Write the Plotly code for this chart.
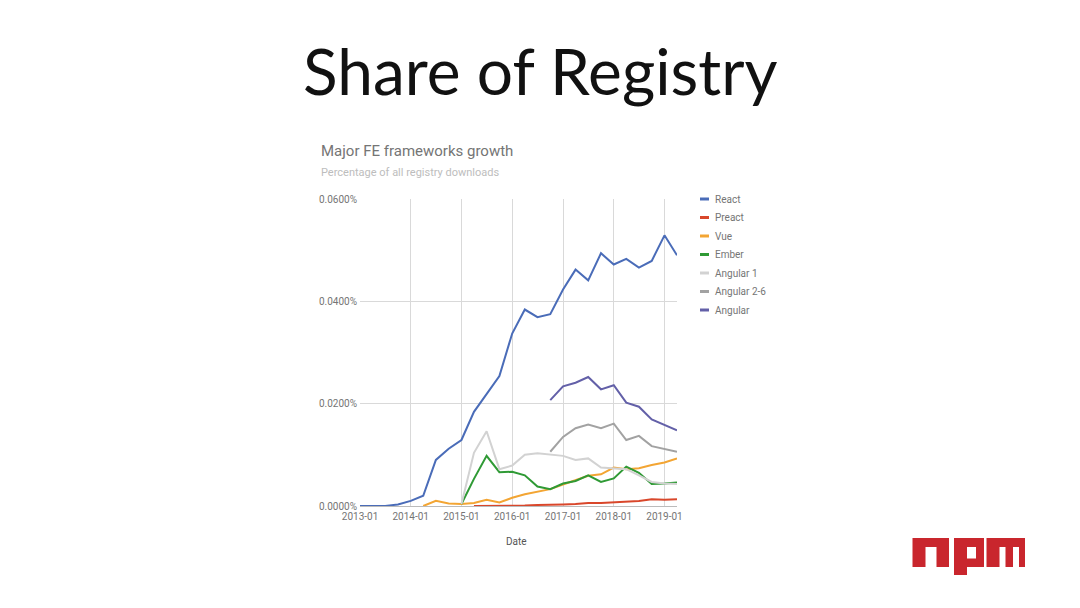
import plotly.graph_objects as go
import pandas as pd

W, H = 1080, 608
OFF = 8  # page body margin seen in the screenshot

# ---- data (percentage of all registry downloads), quarterly from 2013-01 ----
dates = pd.date_range(start="2013-01-01", periods=26, freq="QS")

react = [0, 0, 0, 0.0003, 0.0010, 0.0020, 0.0090, 0.0112, 0.0129, 0.0184, 0.0220, 0.0254,
         0.0337, 0.0384, 0.0369, 0.0375, 0.0423, 0.0462, 0.0441, 0.0494, 0.0472, 0.0483,
         0.0466, 0.0479, 0.0529, 0.0490]
preact = [None] * 9 + [0.0000, 0.0000, 0.0000, 0.0001, 0.0001, 0.0002, 0.0002, 0.0003,
                       0.0004, 0.0006, 0.0006, 0.0007, 0.0009, 0.0010, 0.0013, 0.0012, 0.0013]
vue = [None] * 5 + [0.0000, 0.0010, 0.0005, 0.0004, 0.0006, 0.0012, 0.0007, 0.0016, 0.0023,
                    0.0028, 0.0033, 0.0042, 0.0051, 0.0059, 0.0062, 0.0075, 0.0072, 0.0074,
                    0.0080, 0.0085, 0.0093]
ember = [None] * 8 + [0.0004, 0.0053, 0.0098, 0.0066, 0.0067, 0.0060, 0.0038, 0.0033, 0.0044,
                      0.0049, 0.0060, 0.0047, 0.0054, 0.0077, 0.0065, 0.0043, 0.0044, 0.0046]
angular1 = [None] * 8 + [0.0004, 0.0104, 0.0146, 0.0072, 0.0079, 0.0100, 0.0103, 0.0100,
                         0.0098, 0.0090, 0.0093, 0.0075, 0.0074, 0.0072, 0.0060, 0.0047,
                         0.0044, 0.0043]
angular26 = [None] * 15 + [0.0106, 0.0135, 0.0152, 0.0159, 0.0152, 0.0161, 0.0129, 0.0137,
                           0.0117, 0.0111, 0.0106]
angular = [None] * 15 + [0.0207, 0.0234, 0.0241, 0.0252, 0.0228, 0.0236, 0.0202, 0.0194,
                         0.0169, 0.0159, 0.0148]

names = ["React", "Preact", "Vue", "Ember", "Angular 1", "Angular 2-6", "Angular"]
series = [react, preact, vue, ember, angular1, angular26, angular]
colors = ["#4a6cb8", "#d9472b", "#f3a533", "#2f9a35", "#d2d2d2", "#a2a2a2", "#6360a8"]

y_ticks = [0, 0.02, 0.04, 0.06]
y_labels = ["0.0000%", "0.0200%", "0.0400%", "0.0600%"]
x_range = ["2013-01-01", "2019-04-01"]

# ---- layout helpers (screen pixel -> paper) ----
def px(x):
    return (x - OFF) / W

def py(y):
    return 1 - (y - OFF) / H

fig = go.Figure()
for name, vals, col in zip(names, series, colors):
    fig.add_trace(go.Scatter(x=dates, y=vals, name=name, mode="lines",
                             line=dict(color=col, width=2), connectgaps=False,
                             showlegend=False))

annotations = [
    dict(text="Share of Registry", x=px(540), y=py(70), xref="paper", yref="paper",
         showarrow=False, xanchor="center", yanchor="middle",
         font=dict(family="Lato", size=64, color="#111111")),
    dict(text="Major FE frameworks growth", x=px(319), y=py(151), xref="paper", yref="paper",
         showarrow=False, xanchor="left", yanchor="middle",
         font=dict(family="Roboto", size=15, color="#757575")),
    dict(text="Percentage of all registry downloads", x=px(319), y=py(172), xref="paper",
         yref="paper", showarrow=False, xanchor="left", yanchor="middle",
         font=dict(family="Roboto", size=11, color="#bdbdbd")),
    dict(text="Date", x=px(517), y=py(541), xref="paper", yref="paper",
         showarrow=False, xanchor="center", yanchor="middle",
         font=dict(family="Roboto", size=10, color="#555555")),
]

shapes = []
# manual compact legend
for i, (name, col) in enumerate(zip(names, colors)):
    yy = 199 + i * 18.5
    shapes.append(dict(type="line", xref="paper", yref="paper",
                       x0=px(700), x1=px(709), y0=py(yy), y1=py(yy),
                       line=dict(color=col, width=3)))
    annotations.append(dict(text=name, x=px(713), y=py(yy), xref="paper", yref="paper",
                            showarrow=False, xanchor="left", yanchor="middle",
                            font=dict(family="Roboto", size=10, color="#757575")))

# npm logo (decoration)
red = "#c9262d"
def poly(pts, color):
    d = "M " + " L ".join(f"{px(x):.5f},{py(y):.5f}" for x, y in pts) + " Z"
    return dict(type="path", xref="paper", yref="paper", path=d,
                fillcolor=color, line=dict(width=0))

# n
shapes.append(poly([(912.5, 567), (912.5, 538), (949, 538), (949, 567), (936.5, 567),
                    (936.5, 547), (925.5, 547), (925.5, 567)], red))
# p
shapes.append(poly([(954, 575), (954, 538), (984, 538), (984, 567), (967, 567),
                    (967, 575)], red))
shapes.append(poly([(967, 547), (976, 547), (976, 558.5), (967, 558.5)], "#ffffff"))
# m
shapes.append(poly([(986.5, 567), (986.5, 538), (1025, 538), (1025, 567), (1019, 567),
                    (1019, 547), (1013, 547), (1013, 567), (1005.5, 567), (1005.5, 547),
                    (999.5, 547), (999.5, 567)], red))

fig.update_layout(
    template="none",
    width=W, height=H,
    margin=dict(l=0, r=0, t=0, b=0, pad=0, autoexpand=False),
    paper_bgcolor="#ffffff", plot_bgcolor="#ffffff",
    annotations=annotations, shapes=shapes,
    showlegend=False,
    xaxis=dict(domain=[px(360), px(677)], type="date", range=x_range,
               tickformat="%Y-%m", dtick="M12", tick0="2013-01-01",
               automargin=False, ticklabelstandoff=3,
               showgrid=True, gridcolor="#d9d9d9", gridwidth=1,
               zeroline=False, showline=False, ticks="",
               tickfont=dict(family="Roboto", size=10, color="#757575")),
    yaxis=dict(domain=[py(506), py(199)], range=[0, 0.06], tickvals=y_ticks,
               ticktext=y_labels, automargin=False, ticklabelstandoff=2,
               showgrid=True, gridcolor="#d9d9d9", gridwidth=1,
               zeroline=True, zerolinecolor="#bbbbbb", zerolinewidth=1,
               showline=False, ticks="",
               tickfont=dict(family="Roboto", size=10, color="#757575")),
    font=dict(family="Roboto"),
)

fig.write_html("out.html")
